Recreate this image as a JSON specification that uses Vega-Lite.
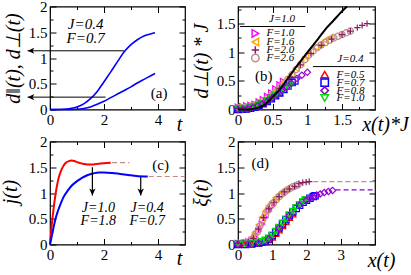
{
"$schema":"https://vega.github.io/schema/vega-lite/v6.json",
"padding":{"left":-1,"top":-1.5,"right":0,"bottom":0},
"config":{
 "view":{"stroke":"black","strokeWidth":1.2},
 "axis":{"labelFont":"Liberation Serif","labelFontSize":15,"labelColor":"black","titleFont":"Liberation Serif","titleFontSize":20,"titleFontStyle":"italic","titleFontWeight":"normal","titleColor":"black","tickColor":"black","tickWidth":1,"grid":false,"labelFlush":false,"labelOverlap":false,"labelBound":false,"domain":false}
},
"datasets":{
 "one":[{"v":0}],
 "a_lines":[
  {"t":0,"d":0,"c":"perp"},{"t":0.25,"d":0,"c":"perp"},{"t":0.5,"d":0.005,"c":"perp"},{"t":0.75,"d":0.02,"c":"perp"},{"t":1.0,"d":0.05,"c":"perp"},{"t":1.25,"d":0.11,"c":"perp"},{"t":1.5,"d":0.21,"c":"perp"},{"t":1.75,"d":0.35,"c":"perp"},{"t":2.0,"d":0.54,"c":"perp"},{"t":2.25,"d":0.73,"c":"perp"},{"t":2.5,"d":0.93,"c":"perp"},{"t":2.75,"d":1.12,"c":"perp"},{"t":3.0,"d":1.26,"c":"perp"},{"t":3.25,"d":1.36,"c":"perp"},{"t":3.5,"d":1.43,"c":"perp"},{"t":3.75,"d":1.47,"c":"perp"},{"t":3.89,"d":1.49,"c":"perp"},
  {"t":0,"d":0,"c":"par"},{"t":0.5,"d":0,"c":"par"},{"t":1.0,"d":0.005,"c":"par"},{"t":1.25,"d":0.02,"c":"par"},{"t":1.5,"d":0.05,"c":"par"},{"t":1.75,"d":0.1,"c":"par"},{"t":2.0,"d":0.16,"c":"par"},{"t":2.25,"d":0.23,"c":"par"},{"t":2.5,"d":0.3,"c":"par"},{"t":2.75,"d":0.37,"c":"par"},{"t":3.0,"d":0.44,"c":"par"},{"t":3.25,"d":0.52,"c":"par"},{"t":3.5,"d":0.59,"c":"par"},{"t":3.75,"d":0.66,"c":"par"},{"t":3.89,"d":0.70,"c":"par"}
 ],
 "a_arrows":[{"x1":-0.83,"x2":2.74,"y":1.14},{"x1":-0.83,"x2":2.06,"y":0.24}],
 "a_text":[{"x":1.32,"y":1.66,"t":"J=0.4"},{"x":1.32,"y":1.38,"t":"F=0.7"}],
 "c_red":[{"t":0,"j":0},{"t":0.05,"j":0.3},{"t":0.1,"j":0.55},{"t":0.15,"j":0.77},{"t":0.2,"j":0.96},{"t":0.3,"j":1.25},{"t":0.4,"j":1.42},{"t":0.5,"j":1.53},{"t":0.6,"j":1.59},{"t":0.7,"j":1.62},{"t":0.8,"j":1.63},{"t":0.9,"j":1.62},{"t":1.0,"j":1.6},{"t":1.2,"j":1.57},{"t":1.4,"j":1.555},{"t":1.6,"j":1.555},{"t":1.8,"j":1.57},{"t":2.0,"j":1.58},{"t":2.25,"j":1.59}],
 "c_blue":[{"t":0,"j":0},{"t":0.1,"j":0.25},{"t":0.2,"j":0.49},{"t":0.3,"j":0.66},{"t":0.4,"j":0.8},{"t":0.5,"j":0.92},{"t":0.65,"j":1.04},{"t":0.8,"j":1.14},{"t":1.0,"j":1.23},{"t":1.2,"j":1.3},{"t":1.4,"j":1.35},{"t":1.6,"j":1.38},{"t":1.8,"j":1.4},{"t":2.0,"j":1.4},{"t":2.3,"j":1.39},{"t":2.6,"j":1.37},{"t":2.9,"j":1.35},{"t":3.2,"j":1.33},{"t":3.62,"j":1.32}],
 "c_dash":[{"x1":2.3,"x2":2.94,"y":1.59},{"x1":3.66,"x2":5,"y":1.32}],
 "c_arrows":[{"x":1.57,"y1":1.5,"y2":0.95},{"x":3.36,"y1":1.31,"y2":0.95}],
 "c_text":[{"x":1.79,"y":0.70,"t":"J=1.0"},{"x":1.79,"y":0.45,"t":"F=1.8"},{"x":3.6,"y":0.70,"t":"J=0.4"},{"x":3.6,"y":0.45,"t":"F=0.7"}],
 "b_pts":[
  {"x":0,"y":0.04,"s":"J1_F1.0"},{"x":0.06,"y":0.05,"s":"J1_F1.0"},{"x":0.12,"y":0.06,"s":"J1_F1.0"},{"x":0.18,"y":0.07,"s":"J1_F1.0"},{"x":0.24,"y":0.09,"s":"J1_F1.0"},{"x":0.3,"y":0.13,"s":"J1_F1.0"},{"x":0.36,"y":0.17,"s":"J1_F1.0"},{"x":0.42,"y":0.23,"s":"J1_F1.0"},{"x":0.48,"y":0.29,"s":"J1_F1.0"},{"x":0.54,"y":0.36,"s":"J1_F1.0"},{"x":0.6,"y":0.43,"s":"J1_F1.0"},{"x":0.65,"y":0.49,"s":"J1_F1.0"},
  {"x":0,"y":0.03,"s":"J1_F1.6"},{"x":0.07,"y":0.04,"s":"J1_F1.6"},{"x":0.14,"y":0.05,"s":"J1_F1.6"},{"x":0.21,"y":0.07,"s":"J1_F1.6"},{"x":0.28,"y":0.1,"s":"J1_F1.6"},{"x":0.35,"y":0.14,"s":"J1_F1.6"},{"x":0.42,"y":0.19,"s":"J1_F1.6"},{"x":0.49,"y":0.26,"s":"J1_F1.6"},{"x":0.56,"y":0.34,"s":"J1_F1.6"},{"x":0.63,"y":0.43,"s":"J1_F1.6"},{"x":0.7,"y":0.52,"s":"J1_F1.6"},{"x":0.77,"y":0.62,"s":"J1_F1.6"},{"x":0.84,"y":0.72,"s":"J1_F1.6"},{"x":0.91,"y":0.82,"s":"J1_F1.6"},{"x":0.98,"y":0.92,"s":"J1_F1.6"},{"x":1.05,"y":1.01,"s":"J1_F1.6"},{"x":1.12,"y":1.09,"s":"J1_F1.6"},{"x":1.19,"y":1.15,"s":"J1_F1.6"},{"x":1.26,"y":1.21,"s":"J1_F1.6"},{"x":1.33,"y":1.26,"s":"J1_F1.6"},
  {"x":0,"y":0.03,"s":"J1_F2.6"},{"x":0.06,"y":0.03,"s":"J1_F2.6"},{"x":0.12,"y":0.04,"s":"J1_F2.6"},{"x":0.18,"y":0.06,"s":"J1_F2.6"},{"x":0.24,"y":0.08,"s":"J1_F2.6"},{"x":0.3,"y":0.11,"s":"J1_F2.6"},{"x":0.36,"y":0.15,"s":"J1_F2.6"},{"x":0.42,"y":0.19,"s":"J1_F2.6"},{"x":0.48,"y":0.25,"s":"J1_F2.6"},{"x":0.54,"y":0.31,"s":"J1_F2.6"},{"x":0.6,"y":0.38,"s":"J1_F2.6"},{"x":0.66,"y":0.45,"s":"J1_F2.6"},{"x":0.72,"y":0.53,"s":"J1_F2.6"},{"x":0.78,"y":0.61,"s":"J1_F2.6"},{"x":0.84,"y":0.7,"s":"J1_F2.6"},{"x":0.9,"y":0.78,"s":"J1_F2.6"},{"x":0.96,"y":0.87,"s":"J1_F2.6"},{"x":1.02,"y":0.95,"s":"J1_F2.6"},{"x":1.08,"y":1.02,"s":"J1_F2.6"},{"x":1.14,"y":1.08,"s":"J1_F2.6"},{"x":1.2,"y":1.13,"s":"J1_F2.6"},{"x":1.26,"y":1.17,"s":"J1_F2.6"},{"x":1.32,"y":1.21,"s":"J1_F2.6"},{"x":1.38,"y":1.25,"s":"J1_F2.6"},{"x":1.44,"y":1.28,"s":"J1_F2.6"},{"x":1.5,"y":1.31,"s":"J1_F2.6"},{"x":1.56,"y":1.34,"s":"J1_F2.6"},{"x":1.62,"y":1.37,"s":"J1_F2.6"},
  {"x":0,"y":0.02,"s":"J1_F2.0"},{"x":0.15,"y":0.05,"s":"J1_F2.0"},{"x":0.3,"y":0.11,"s":"J1_F2.0"},{"x":0.45,"y":0.21,"s":"J1_F2.0"},{"x":0.6,"y":0.37,"s":"J1_F2.0"},{"x":0.75,"y":0.57,"s":"J1_F2.0"},{"x":0.9,"y":0.78,"s":"J1_F2.0"},{"x":1.05,"y":0.98,"s":"J1_F2.0"},{"x":1.2,"y":1.12,"s":"J1_F2.0"},{"x":1.35,"y":1.23,"s":"J1_F2.0"},{"x":1.5,"y":1.31,"s":"J1_F2.0"},{"x":1.62,"y":1.37,"s":"J1_F2.0"},{"x":1.72,"y":1.43,"s":"J1_F2.0"},{"x":1.79,"y":1.47,"s":"J1_F2.0"},{"x":1.86,"y":1.5,"s":"J1_F2.0"},
  {"x":0,"y":0,"s":"J04_F0.5"},{"x":0.06,"y":0.005,"s":"J04_F0.5"},{"x":0.12,"y":0.01,"s":"J04_F0.5"},{"x":0.18,"y":0.02,"s":"J04_F0.5"},{"x":0.24,"y":0.04,"s":"J04_F0.5"},{"x":0.3,"y":0.07,"s":"J04_F0.5"},{"x":0.36,"y":0.1,"s":"J04_F0.5"},{"x":0.42,"y":0.14,"s":"J04_F0.5"},{"x":0.48,"y":0.19,"s":"J04_F0.5"},{"x":0.54,"y":0.24,"s":"J04_F0.5"},{"x":0.6,"y":0.29,"s":"J04_F0.5"},{"x":0.66,"y":0.35,"s":"J04_F0.5"},
  {"x":0,"y":0,"s":"J04_F0.7"},{"x":0.06,"y":0.005,"s":"J04_F0.7"},{"x":0.12,"y":0.01,"s":"J04_F0.7"},{"x":0.18,"y":0.02,"s":"J04_F0.7"},{"x":0.24,"y":0.04,"s":"J04_F0.7"},{"x":0.3,"y":0.07,"s":"J04_F0.7"},{"x":0.36,"y":0.1,"s":"J04_F0.7"},{"x":0.42,"y":0.14,"s":"J04_F0.7"},{"x":0.48,"y":0.19,"s":"J04_F0.7"},{"x":0.54,"y":0.24,"s":"J04_F0.7"},{"x":0.6,"y":0.29,"s":"J04_F0.7"},{"x":0.66,"y":0.35,"s":"J04_F0.7"},{"x":0.72,"y":0.41,"s":"J04_F0.7"},{"x":0.78,"y":0.47,"s":"J04_F0.7"},{"x":0.82,"y":0.5,"s":"J04_F0.7"},
  {"x":0,"y":0.01,"s":"J04_F1.0"},{"x":0.06,"y":0.01,"s":"J04_F1.0"},{"x":0.12,"y":0.02,"s":"J04_F1.0"},{"x":0.18,"y":0.03,"s":"J04_F1.0"},{"x":0.24,"y":0.05,"s":"J04_F1.0"},{"x":0.3,"y":0.08,"s":"J04_F1.0"},{"x":0.36,"y":0.11,"s":"J04_F1.0"},{"x":0.42,"y":0.15,"s":"J04_F1.0"},{"x":0.48,"y":0.2,"s":"J04_F1.0"},{"x":0.54,"y":0.25,"s":"J04_F1.0"},{"x":0.6,"y":0.3,"s":"J04_F1.0"},{"x":0.66,"y":0.35,"s":"J04_F1.0"},{"x":0.72,"y":0.4,"s":"J04_F1.0"},{"x":0.76,"y":0.43,"s":"J04_F1.0"},
  {"x":0,"y":0,"s":"J04_F0.8"},{"x":0.07,"y":0.005,"s":"J04_F0.8"},{"x":0.14,"y":0.015,"s":"J04_F0.8"},{"x":0.21,"y":0.03,"s":"J04_F0.8"},{"x":0.28,"y":0.06,"s":"J04_F0.8"},{"x":0.35,"y":0.1,"s":"J04_F0.8"},{"x":0.42,"y":0.14,"s":"J04_F0.8"},{"x":0.49,"y":0.2,"s":"J04_F0.8"},{"x":0.56,"y":0.26,"s":"J04_F0.8"},{"x":0.63,"y":0.33,"s":"J04_F0.8"},{"x":0.7,"y":0.39,"s":"J04_F0.8"},{"x":0.77,"y":0.46,"s":"J04_F0.8"},{"x":0.85,"y":0.54,"s":"J04_F0.8"},{"x":0.92,"y":0.6,"s":"J04_F0.8"},{"x":1.0,"y":0.65,"s":"J04_F0.8"}
 ],
 "b_line":[{"x":0,"y":0},{"x":0.15,"y":0},{"x":0.25,"y":0.02},{"x":0.35,"y":0.06},{"x":0.42,"y":0.12},{"x":0.5,"y":0.22},{"x":0.61,"y":0.36},{"x":0.7,"y":0.51},{"x":0.8,"y":0.68},{"x":0.9,"y":0.84},{"x":1.0,"y":1.0},{"x":1.1,"y":1.15},{"x":1.19,"y":1.29},{"x":1.28,"y":1.43},{"x":1.38,"y":1.56},{"x":1.47,"y":1.68},{"x":1.57,"y":1.8}],
 "b_leg":[{"x":0.25,"y":1.33,"s":"J1_F1.0"},{"x":0.25,"y":1.18,"s":"J1_F1.6"},{"x":0.25,"y":1.04,"s":"J1_F2.0"},{"x":0.25,"y":0.9,"s":"J1_F2.6"},{"x":1.25,"y":0.61,"s":"J04_F0.5"},{"x":1.25,"y":0.47,"s":"J04_F0.7"},{"x":1.25,"y":0.33,"s":"J04_F0.8"},{"x":1.25,"y":0.2,"s":"J04_F1.0"}],
 "b_legtext":[{"x":0.41,"y":1.33,"t":"F=1.0"},{"x":0.41,"y":1.18,"t":"F=1.6"},{"x":0.41,"y":1.04,"t":"F=2.0"},{"x":0.41,"y":0.9,"t":"F=2.6"},{"x":1.42,"y":0.61,"t":"F=0.5"},{"x":1.42,"y":0.47,"t":"F=0.7"},{"x":1.42,"y":0.33,"t":"F=0.8"},{"x":1.42,"y":0.2,"t":"F=1.0"}],
 "b_head":[{"x":0.635,"y":1.58,"t":"J=1.0"},{"x":1.62,"y":0.88,"t":"J=0.4"}],
 "b_under":[{"x1":0.03,"x2":0.97,"y":1.45},{"x1":1.08,"x2":1.96,"y":0.75}],
 "d_pts":[
  {"x":0,"y":0.02,"s":"J1_F1.0"},{"x":0.1,"y":0.02,"s":"J1_F1.0"},{"x":0.2,"y":0.03,"s":"J1_F1.0"},{"x":0.3,"y":0.05,"s":"J1_F1.0"},{"x":0.4,"y":0.08,"s":"J1_F1.0"},{"x":0.5,"y":0.14,"s":"J1_F1.0"},{"x":0.6,"y":0.26,"s":"J1_F1.0"},{"x":0.7,"y":0.4,"s":"J1_F1.0"},{"x":0.8,"y":0.53,"s":"J1_F1.0"},{"x":0.9,"y":0.65,"s":"J1_F1.0"},{"x":1.0,"y":0.75,"s":"J1_F1.0"},
  {"x":0,"y":0.02,"s":"J1_F1.6"},{"x":0.1,"y":0.03,"s":"J1_F1.6"},{"x":0.2,"y":0.04,"s":"J1_F1.6"},{"x":0.3,"y":0.07,"s":"J1_F1.6"},{"x":0.4,"y":0.13,"s":"J1_F1.6"},{"x":0.5,"y":0.24,"s":"J1_F1.6"},{"x":0.6,"y":0.38,"s":"J1_F1.6"},{"x":0.7,"y":0.53,"s":"J1_F1.6"},{"x":0.8,"y":0.65,"s":"J1_F1.6"},{"x":0.9,"y":0.75,"s":"J1_F1.6"},{"x":1.0,"y":0.83,"s":"J1_F1.6"},{"x":1.1,"y":0.91,"s":"J1_F1.6"},{"x":1.2,"y":0.97,"s":"J1_F1.6"},{"x":1.3,"y":1.02,"s":"J1_F1.6"},{"x":1.4,"y":1.07,"s":"J1_F1.6"},
  {"x":0,"y":0.02,"s":"J1_F2.6"},{"x":0.08,"y":0.02,"s":"J1_F2.6"},{"x":0.16,"y":0.03,"s":"J1_F2.6"},{"x":0.24,"y":0.04,"s":"J1_F2.6"},{"x":0.32,"y":0.05,"s":"J1_F2.6"},{"x":0.4,"y":0.09,"s":"J1_F2.6"},{"x":0.48,"y":0.15,"s":"J1_F2.6"},{"x":0.56,"y":0.24,"s":"J1_F2.6"},{"x":0.64,"y":0.36,"s":"J1_F2.6"},{"x":0.72,"y":0.48,"s":"J1_F2.6"},{"x":0.8,"y":0.58,"s":"J1_F2.6"},{"x":0.88,"y":0.67,"s":"J1_F2.6"},{"x":0.96,"y":0.75,"s":"J1_F2.6"},{"x":1.04,"y":0.81,"s":"J1_F2.6"},{"x":1.12,"y":0.87,"s":"J1_F2.6"},{"x":1.2,"y":0.93,"s":"J1_F2.6"},{"x":1.28,"y":0.98,"s":"J1_F2.6"},{"x":1.36,"y":1.02,"s":"J1_F2.6"},{"x":1.44,"y":1.06,"s":"J1_F2.6"},{"x":1.52,"y":1.09,"s":"J1_F2.6"},{"x":1.6,"y":1.12,"s":"J1_F2.6"},{"x":1.68,"y":1.14,"s":"J1_F2.6"},{"x":1.75,"y":1.16,"s":"J1_F2.6"},
  {"x":0,"y":0.02,"s":"J1_F2.0"},{"x":0.15,"y":0.03,"s":"J1_F2.0"},{"x":0.3,"y":0.05,"s":"J1_F2.0"},{"x":0.45,"y":0.12,"s":"J1_F2.0"},{"x":0.6,"y":0.3,"s":"J1_F2.0"},{"x":0.75,"y":0.52,"s":"J1_F2.0"},{"x":0.9,"y":0.69,"s":"J1_F2.0"},{"x":1.05,"y":0.82,"s":"J1_F2.0"},{"x":1.2,"y":0.93,"s":"J1_F2.0"},{"x":1.35,"y":1.02,"s":"J1_F2.0"},{"x":1.5,"y":1.08,"s":"J1_F2.0"},{"x":1.65,"y":1.13,"s":"J1_F2.0"},{"x":1.78,"y":1.18,"s":"J1_F2.0"},{"x":1.89,"y":1.2,"s":"J1_F2.0"},{"x":1.99,"y":1.21,"s":"J1_F2.0"},{"x":2.08,"y":1.22,"s":"J1_F2.0"},
  {"x":0,"y":0,"s":"J04_F0.5"},{"x":0.2,"y":0,"s":"J04_F0.5"},{"x":0.4,"y":0.01,"s":"J04_F0.5"},{"x":0.6,"y":0.02,"s":"J04_F0.5"},{"x":0.8,"y":0.05,"s":"J04_F0.5"},{"x":0.9,"y":0.09,"s":"J04_F0.5"},{"x":1.0,"y":0.14,"s":"J04_F0.5"},{"x":1.1,"y":0.21,"s":"J04_F0.5"},{"x":1.2,"y":0.28,"s":"J04_F0.5"},{"x":1.3,"y":0.36,"s":"J04_F0.5"},{"x":1.4,"y":0.44,"s":"J04_F0.5"},{"x":1.5,"y":0.52,"s":"J04_F0.5"},{"x":1.6,"y":0.59,"s":"J04_F0.5"},
  {"x":0,"y":0,"s":"J04_F0.7"},{"x":0.2,"y":0,"s":"J04_F0.7"},{"x":0.4,"y":0.01,"s":"J04_F0.7"},{"x":0.6,"y":0.03,"s":"J04_F0.7"},{"x":0.7,"y":0.05,"s":"J04_F0.7"},{"x":0.8,"y":0.07,"s":"J04_F0.7"},{"x":0.9,"y":0.11,"s":"J04_F0.7"},{"x":1.0,"y":0.17,"s":"J04_F0.7"},{"x":1.1,"y":0.24,"s":"J04_F0.7"},{"x":1.2,"y":0.32,"s":"J04_F0.7"},{"x":1.3,"y":0.4,"s":"J04_F0.7"},{"x":1.4,"y":0.48,"s":"J04_F0.7"},{"x":1.5,"y":0.56,"s":"J04_F0.7"},{"x":1.6,"y":0.63,"s":"J04_F0.7"},{"x":1.7,"y":0.7,"s":"J04_F0.7"},{"x":1.8,"y":0.76,"s":"J04_F0.7"},{"x":1.9,"y":0.82,"s":"J04_F0.7"},{"x":2.0,"y":0.86,"s":"J04_F0.7"},{"x":2.1,"y":0.9,"s":"J04_F0.7"},{"x":2.2,"y":0.93,"s":"J04_F0.7"},{"x":2.25,"y":0.945,"s":"J04_F0.7"},
  {"x":0,"y":0.01,"s":"J04_F1.0"},{"x":0.2,"y":0.01,"s":"J04_F1.0"},{"x":0.4,"y":0.02,"s":"J04_F1.0"},{"x":0.6,"y":0.04,"s":"J04_F1.0"},{"x":0.7,"y":0.06,"s":"J04_F1.0"},{"x":0.8,"y":0.09,"s":"J04_F1.0"},{"x":0.9,"y":0.13,"s":"J04_F1.0"},{"x":1.0,"y":0.19,"s":"J04_F1.0"},{"x":1.1,"y":0.26,"s":"J04_F1.0"},{"x":1.2,"y":0.34,"s":"J04_F1.0"},{"x":1.3,"y":0.42,"s":"J04_F1.0"},{"x":1.4,"y":0.5,"s":"J04_F1.0"},{"x":1.5,"y":0.58,"s":"J04_F1.0"},{"x":1.6,"y":0.65,"s":"J04_F1.0"},{"x":1.7,"y":0.72,"s":"J04_F1.0"},{"x":1.8,"y":0.78,"s":"J04_F1.0"},{"x":1.9,"y":0.84,"s":"J04_F1.0"},{"x":1.96,"y":0.87,"s":"J04_F1.0"},
  {"x":0,"y":0,"s":"J04_F0.8"},{"x":0.3,"y":0,"s":"J04_F0.8"},{"x":0.6,"y":0.03,"s":"J04_F0.8"},{"x":0.9,"y":0.11,"s":"J04_F0.8"},{"x":1.2,"y":0.32,"s":"J04_F0.8"},{"x":1.5,"y":0.56,"s":"J04_F0.8"},{"x":1.8,"y":0.76,"s":"J04_F0.8"},{"x":2.0,"y":0.86,"s":"J04_F0.8"},{"x":2.1,"y":0.9,"s":"J04_F0.8"},{"x":2.2,"y":0.93,"s":"J04_F0.8"},{"x":2.3,"y":0.96,"s":"J04_F0.8"},{"x":2.4,"y":0.98,"s":"J04_F0.8"},{"x":2.52,"y":1.01,"s":"J04_F0.8"},{"x":2.64,"y":1.03,"s":"J04_F0.8"},{"x":2.76,"y":1.05,"s":"J04_F0.8"}
 ],
 "d_dash":[{"x1":2.2,"x2":4,"y":1.22,"k":"a"},{"x1":2.85,"x2":4,"y":1.06,"k":"b"}],
 "d_line":[{"x":0,"y":0.01},{"x":0.6,"y":0.01}]
},
"concat":[
 {
  "width":135,"height":103,
  "layer":[
   {"data":{"name":"one"},"mark":{"type":"point","opacity":0},"encoding":{
     "x":{"field":"v","type":"quantitative","scale":{"domain":[0,5],"nice":false,"zero":false},"axis":{"orient":"bottom","values":[0,2,4],"ticks":false,"labelPadding":3,"format":"~g","title":"t","titleX":129,"titleY":15,"titleAlign":"center","titleBaseline":"middle","titleAngle":0}},
     "y":{"field":"v","type":"quantitative","scale":{"domain":[0,2],"nice":false,"zero":false},"axis":{"orient":"left","values":[0,0.5,1,1.5,2],"ticks":false,"labelPadding":3,"format":"~g","title":"d‖(t), d⊥(t)","titleX":-37,"titleY":51.5,"titleAlign":"center","titleBaseline":"middle","titleAngle":-90}}}},
   {"data":{"name":"one"},"mark":{"type":"point","opacity":0},"encoding":{
     "x":{"field":"v","type":"quantitative","axis":{"orient":"bottom","values":[0,2,4],"labels":false,"tickSize":-6,"title":null}},
     "y":{"field":"v","type":"quantitative","axis":{"orient":"left","values":[0,0.5,1,1.5,2],"labels":false,"tickSize":-6,"title":null}}}},
   {"data":{"name":"one"},"mark":{"type":"point","opacity":0},"encoding":{
     "x":{"field":"v","type":"quantitative","axis":{"orient":"bottom","values":[1,3],"labels":false,"tickSize":-3,"title":null}},
     "y":{"field":"v","type":"quantitative","axis":{"orient":"left","values":[0.25,0.75,1.25,1.75],"labels":false,"tickSize":-3,"title":null}}}},
   {"data":{"name":"one"},"mark":{"type":"point","opacity":0},"encoding":{
     "x":{"field":"v","type":"quantitative","axis":{"orient":"top","values":[0,2,4],"labels":false,"tickSize":-6,"title":null}},
     "y":{"field":"v","type":"quantitative","axis":{"orient":"right","values":[0,0.5,1,1.5,2],"labels":false,"tickSize":-6,"title":null}}}},
   {"data":{"name":"one"},"mark":{"type":"point","opacity":0},"encoding":{
     "x":{"field":"v","type":"quantitative","axis":{"orient":"top","values":[1,3],"labels":false,"tickSize":-3,"title":null}},
     "y":{"field":"v","type":"quantitative","axis":{"orient":"right","values":[0.25,0.75,1.25,1.75],"labels":false,"tickSize":-3,"title":null}}}},
   {"data":{"name":"a_lines"},"mark":{"type":"line","color":"#0000ff","strokeWidth":1.6,"interpolate":"monotone"},"encoding":{
     "x":{"field":"t","type":"quantitative","axis":null},"y":{"field":"d","type":"quantitative","axis":null},"detail":{"field":"c"}}},
   {"data":{"name":"a_arrows"},"mark":{"type":"rule","color":"black","strokeWidth":1},"encoding":{
     "x":{"field":"x1","type":"quantitative","axis":null},"x2":{"field":"x2"},"y":{"field":"y","type":"quantitative","axis":null}}},
   {"data":{"name":"a_arrows"},"mark":{"type":"point","shape":"M0,0L1,-0.45L0.75,0L1,0.45Z","filled":true,"color":"black","size":180,"opacity":1},"encoding":{
     "x":{"field":"x1","type":"quantitative","axis":null},"y":{"field":"y","type":"quantitative","axis":null}}},
   {"data":{"name":"a_text"},"mark":{"type":"text","font":"Liberation Serif","fontStyle":"italic","fontSize":15,"color":"black","align":"center","baseline":"middle"},"encoding":{
     "x":{"field":"x","type":"quantitative","axis":null},"y":{"field":"y","type":"quantitative","axis":null},"text":{"field":"t"}}},
   {"data":{"values":[{"x":4.04,"y":0.32,"t":"(a)"}]},"mark":{"type":"text","font":"Liberation Serif","fontSize":15,"color":"black","align":"center","baseline":"middle"},"encoding":{
     "x":{"field":"x","type":"quantitative","axis":null},"y":{"field":"y","type":"quantitative","axis":null},"text":{"field":"t"}}}
  ],
  "resolve":{"axis":{"x":"independent","y":"independent"}}
 },
 {
  "width":137,"height":103,
  "layer":[
   {"data":{"name":"one"},"mark":{"type":"point","opacity":0},"encoding":{
     "x":{"field":"v","type":"quantitative","scale":{"domain":[0,1.975],"nice":false,"zero":false},"axis":{"orient":"bottom","values":[0,0.5,1,1.5],"ticks":false,"labelPadding":3,"format":"~g","title":"x(t)*J","titleX":147,"titleY":15,"titleAlign":"center","titleBaseline":"middle","titleAngle":0}},
     "y":{"field":"v","type":"quantitative","scale":{"domain":[0,1.8],"nice":false,"zero":false},"axis":{"orient":"left","values":[0,0.5,1,1.5],"ticks":false,"labelPadding":3,"format":"~g","title":"d⊥(t) * J","titleX":-37,"titleY":54,"titleAlign":"center","titleBaseline":"middle","titleAngle":-90}}}},
   {"data":{"name":"one"},"mark":{"type":"point","opacity":0},"encoding":{
     "x":{"field":"v","type":"quantitative","axis":{"orient":"bottom","values":[0,0.5,1,1.5],"labels":false,"tickSize":-6,"title":null}},
     "y":{"field":"v","type":"quantitative","axis":{"orient":"left","values":[0,0.5,1,1.5],"labels":false,"tickSize":-6,"title":null}}}},
   {"data":{"name":"one"},"mark":{"type":"point","opacity":0},"encoding":{
     "x":{"field":"v","type":"quantitative","axis":{"orient":"bottom","values":[0.25,0.75,1.25,1.75],"labels":false,"tickSize":-3,"title":null}},
     "y":{"field":"v","type":"quantitative","axis":{"orient":"left","values":[0.25,0.75,1.25,1.75],"labels":false,"tickSize":-3,"title":null}}}},
   {"data":{"name":"one"},"mark":{"type":"point","opacity":0},"encoding":{
     "x":{"field":"v","type":"quantitative","axis":{"orient":"top","values":[0,0.5,1,1.5],"labels":false,"tickSize":-6,"title":null}},
     "y":{"field":"v","type":"quantitative","axis":{"orient":"right","values":[0,0.5,1,1.5],"labels":false,"tickSize":-6,"title":null}}}},
   {"data":{"name":"one"},"mark":{"type":"point","opacity":0},"encoding":{
     "x":{"field":"v","type":"quantitative","axis":{"orient":"top","values":[0.25,0.75,1.25,1.75],"labels":false,"tickSize":-3,"title":null}},
     "y":{"field":"v","type":"quantitative","axis":{"orient":"right","values":[0.25,0.75,1.25,1.75],"labels":false,"tickSize":-3,"title":null}}}},
   {"data":{"name":"b_pts"},"mark":{"type":"point","filled":false,"size":40,"strokeWidth":1.2,"opacity":1},"encoding":{
     "x":{"field":"x","type":"quantitative","axis":null},"y":{"field":"y","type":"quantitative","axis":null},
     "color":{"field":"s","type":"nominal","scale":{"domain":["J1_F1.0","J1_F1.6","J1_F2.0","J1_F2.6","J04_F0.5","J04_F0.7","J04_F0.8","J04_F1.0"],"range":["#ff00ff","#ffa500","#8b1c62","#bc8f8f","#ff0000","#0000ff","#9400d3","#00dd00"]},"legend":null},
     "shape":{"field":"s","type":"nominal","scale":{"domain":["J1_F1.0","J1_F1.6","J1_F2.0","J1_F2.6","J04_F0.5","J04_F0.7","J04_F0.8","J04_F1.0"],"range":["triangle-right","triangle-left","M-1,0L1,0M0,-1L0,1","circle","triangle-up","square","diamond","triangle-down"]},"legend":null}}},
   {"data":{"name":"b_line"},"mark":{"type":"line","color":"black","strokeWidth":2,"interpolate":"monotone"},"encoding":{
     "x":{"field":"x","type":"quantitative","axis":null},"y":{"field":"y","type":"quantitative","axis":null}}},
   {"data":{"name":"b_leg"},"mark":{"type":"point","filled":false,"size":55,"strokeWidth":1.5,"opacity":1},"encoding":{
     "x":{"field":"x","type":"quantitative","axis":null},"y":{"field":"y","type":"quantitative","axis":null},
     "color":{"field":"s","type":"nominal","legend":null},
     "shape":{"field":"s","type":"nominal","legend":null}}},
   {"data":{"name":"b_legtext"},"mark":{"type":"text","font":"Liberation Serif","fontStyle":"italic","fontSize":11,"color":"black","align":"left","baseline":"middle"},"encoding":{
     "x":{"field":"x","type":"quantitative","axis":null},"y":{"field":"y","type":"quantitative","axis":null},"text":{"field":"t"}}},
   {"data":{"name":"b_head"},"mark":{"type":"text","font":"Liberation Serif","fontStyle":"italic","fontSize":11,"color":"black","align":"center","baseline":"middle"},"encoding":{
     "x":{"field":"x","type":"quantitative","axis":null},"y":{"field":"y","type":"quantitative","axis":null},"text":{"field":"t"}}},
   {"data":{"name":"b_under"},"mark":{"type":"rule","color":"black","strokeWidth":1},"encoding":{
     "x":{"field":"x1","type":"quantitative","axis":null},"x2":{"field":"x2"},"y":{"field":"y","type":"quantitative","axis":null}}},
   {"data":{"values":[{"x":0.37,"y":0.59,"t":"(b)"}]},"mark":{"type":"text","font":"Liberation Serif","fontSize":15,"color":"black","align":"center","baseline":"middle"},"encoding":{
     "x":{"field":"x","type":"quantitative","axis":null},"y":{"field":"y","type":"quantitative","axis":null},"text":{"field":"t"}}}
  ],
  "resolve":{"axis":{"x":"independent","y":"independent"}}
 },
 {
  "width":135,"height":103,
  "layer":[
   {"data":{"name":"one"},"mark":{"type":"point","opacity":0},"encoding":{
     "x":{"field":"v","type":"quantitative","scale":{"domain":[0,5],"nice":false,"zero":false},"axis":{"orient":"bottom","values":[0,2,4],"ticks":false,"labelPadding":3,"format":"~g","title":"t","titleX":129,"titleY":14,"titleAlign":"center","titleBaseline":"middle","titleAngle":0}},
     "y":{"field":"v","type":"quantitative","scale":{"domain":[0,2],"nice":false,"zero":false},"axis":{"orient":"left","values":[0,0.5,1,1.5,2],"ticks":false,"labelPadding":3,"format":"~g","title":"j(t)","titleX":-40,"titleY":50,"titleAlign":"center","titleBaseline":"middle","titleAngle":-90}}}},
   {"data":{"name":"one"},"mark":{"type":"point","opacity":0},"encoding":{
     "x":{"field":"v","type":"quantitative","axis":{"orient":"bottom","values":[0,2,4],"labels":false,"tickSize":-6,"title":null}},
     "y":{"field":"v","type":"quantitative","axis":{"orient":"left","values":[0,0.5,1,1.5,2],"labels":false,"tickSize":-6,"title":null}}}},
   {"data":{"name":"one"},"mark":{"type":"point","opacity":0},"encoding":{
     "x":{"field":"v","type":"quantitative","axis":{"orient":"bottom","values":[1,3],"labels":false,"tickSize":-3,"title":null}},
     "y":{"field":"v","type":"quantitative","axis":{"orient":"left","values":[0.25,0.75,1.25,1.75],"labels":false,"tickSize":-3,"title":null}}}},
   {"data":{"name":"one"},"mark":{"type":"point","opacity":0},"encoding":{
     "x":{"field":"v","type":"quantitative","axis":{"orient":"top","values":[0,2,4],"labels":false,"tickSize":-6,"title":null}},
     "y":{"field":"v","type":"quantitative","axis":{"orient":"right","values":[0,0.5,1,1.5,2],"labels":false,"tickSize":-6,"title":null}}}},
   {"data":{"name":"one"},"mark":{"type":"point","opacity":0},"encoding":{
     "x":{"field":"v","type":"quantitative","axis":{"orient":"top","values":[1,3],"labels":false,"tickSize":-3,"title":null}},
     "y":{"field":"v","type":"quantitative","axis":{"orient":"right","values":[0.25,0.75,1.25,1.75],"labels":false,"tickSize":-3,"title":null}}}},
   {"data":{"name":"c_dash"},"mark":{"type":"rule","color":"#c48a8a","strokeWidth":1.2,"strokeDash":[5,3]},"encoding":{
     "x":{"field":"x1","type":"quantitative","axis":null},"x2":{"field":"x2"},"y":{"field":"y","type":"quantitative","axis":null}}},
   {"data":{"name":"c_red"},"mark":{"type":"line","color":"#ff0000","strokeWidth":2,"interpolate":"monotone"},"encoding":{
     "x":{"field":"t","type":"quantitative","axis":null},"y":{"field":"j","type":"quantitative","axis":null}}},
   {"data":{"name":"c_blue"},"mark":{"type":"line","color":"#0000ff","strokeWidth":2,"interpolate":"monotone"},"encoding":{
     "x":{"field":"t","type":"quantitative","axis":null},"y":{"field":"j","type":"quantitative","axis":null}}},
   {"data":{"name":"c_arrows"},"mark":{"type":"rule","color":"black","strokeWidth":1.2},"encoding":{
     "x":{"field":"x","type":"quantitative","axis":null},"y":{"field":"y1","type":"quantitative","axis":null},"y2":{"field":"y2"}}},
   {"data":{"name":"c_arrows"},"mark":{"type":"point","shape":"M0,0L-0.45,-1L0,-0.75L0.45,-1Z","filled":true,"color":"black","size":200,"opacity":1},"encoding":{
     "x":{"field":"x","type":"quantitative","axis":null},"y":{"field":"y2","type":"quantitative","axis":null}}},
   {"data":{"name":"c_text"},"mark":{"type":"text","font":"Liberation Serif","fontStyle":"italic","fontSize":14,"color":"black","align":"center","baseline":"middle"},"encoding":{
     "x":{"field":"x","type":"quantitative","axis":null},"y":{"field":"y","type":"quantitative","axis":null},"text":{"field":"t"}}},
   {"data":{"values":[{"x":4.1,"y":1.55,"t":"(c)"}]},"mark":{"type":"text","font":"Liberation Serif","fontSize":15,"color":"black","align":"center","baseline":"middle"},"encoding":{
     "x":{"field":"x","type":"quantitative","axis":null},"y":{"field":"y","type":"quantitative","axis":null},"text":{"field":"t"}}}
  ],
  "resolve":{"axis":{"x":"independent","y":"independent"}}
 },
 {
  "width":137,"height":103,
  "layer":[
   {"data":{"name":"one"},"mark":{"type":"point","opacity":0},"encoding":{
     "x":{"field":"v","type":"quantitative","scale":{"domain":[0,4],"nice":false,"zero":false},"axis":{"orient":"bottom","values":[0,1,2,3],"ticks":false,"labelPadding":3,"format":"~g","title":"x(t)","titleX":143,"titleY":16,"titleAlign":"center","titleBaseline":"middle","titleAngle":0}},
     "y":{"field":"v","type":"quantitative","scale":{"domain":[0,2],"nice":false,"zero":false},"axis":{"orient":"left","values":[0,0.5,1,1.5,2],"ticks":false,"labelPadding":3,"format":"~g","title":"ξ(t)","titleX":-37,"titleY":51,"titleAlign":"center","titleBaseline":"middle","titleAngle":-90}}}},
   {"data":{"name":"one"},"mark":{"type":"point","opacity":0},"encoding":{
     "x":{"field":"v","type":"quantitative","axis":{"orient":"bottom","values":[0,1,2,3,4],"labels":false,"tickSize":-6,"title":null}},
     "y":{"field":"v","type":"quantitative","axis":{"orient":"left","values":[0,0.5,1,1.5,2],"labels":false,"tickSize":-6,"title":null}}}},
   {"data":{"name":"one"},"mark":{"type":"point","opacity":0},"encoding":{
     "x":{"field":"v","type":"quantitative","axis":{"orient":"bottom","values":[0.5,1.5,2.5,3.5],"labels":false,"tickSize":-3,"title":null}},
     "y":{"field":"v","type":"quantitative","axis":{"orient":"left","values":[0.25,0.75,1.25,1.75],"labels":false,"tickSize":-3,"title":null}}}},
   {"data":{"name":"one"},"mark":{"type":"point","opacity":0},"encoding":{
     "x":{"field":"v","type":"quantitative","axis":{"orient":"top","values":[0,1,2,3,4],"labels":false,"tickSize":-6,"title":null}},
     "y":{"field":"v","type":"quantitative","axis":{"orient":"right","values":[0,0.5,1,1.5,2],"labels":false,"tickSize":-6,"title":null}}}},
   {"data":{"name":"one"},"mark":{"type":"point","opacity":0},"encoding":{
     "x":{"field":"v","type":"quantitative","axis":{"orient":"top","values":[0.5,1.5,2.5,3.5],"labels":false,"tickSize":-3,"title":null}},
     "y":{"field":"v","type":"quantitative","axis":{"orient":"right","values":[0.25,0.75,1.25,1.75],"labels":false,"tickSize":-3,"title":null}}}},
   {"data":{"name":"d_dash"},"mark":{"type":"rule","strokeWidth":1.2,"strokeDash":[5,3]},"encoding":{
     "x":{"field":"x1","type":"quantitative","axis":null},"x2":{"field":"x2"},"y":{"field":"y","type":"quantitative","axis":null},
     "stroke":{"field":"k","type":"nominal","scale":{"domain":["a","b"],"range":["#bc8f8f","#9400d3"]},"legend":null}}},
   {"data":{"name":"d_line"},"mark":{"type":"line","color":"black","strokeWidth":2},"encoding":{
     "x":{"field":"x","type":"quantitative","axis":null},"y":{"field":"y","type":"quantitative","axis":null}}},
   {"data":{"name":"d_pts"},"mark":{"type":"point","filled":false,"size":40,"strokeWidth":1.2,"opacity":1},"encoding":{
     "x":{"field":"x","type":"quantitative","axis":null},"y":{"field":"y","type":"quantitative","axis":null},
     "color":{"field":"s","type":"nominal","legend":null},
     "shape":{"field":"s","type":"nominal","legend":null}}},
   {"data":{"values":[{"x":0.65,"y":1.59,"t":"(d)"}]},"mark":{"type":"text","font":"Liberation Serif","fontSize":15,"color":"black","align":"center","baseline":"middle"},"encoding":{
     "x":{"field":"x","type":"quantitative","axis":null},"y":{"field":"y","type":"quantitative","axis":null},"text":{"field":"t"}}}
  ],
  "resolve":{"axis":{"x":"independent","y":"independent"}}
 }
],
"columns":2,
"spacing":{"row":32,"column":53},
"bounds":"flush"
}
